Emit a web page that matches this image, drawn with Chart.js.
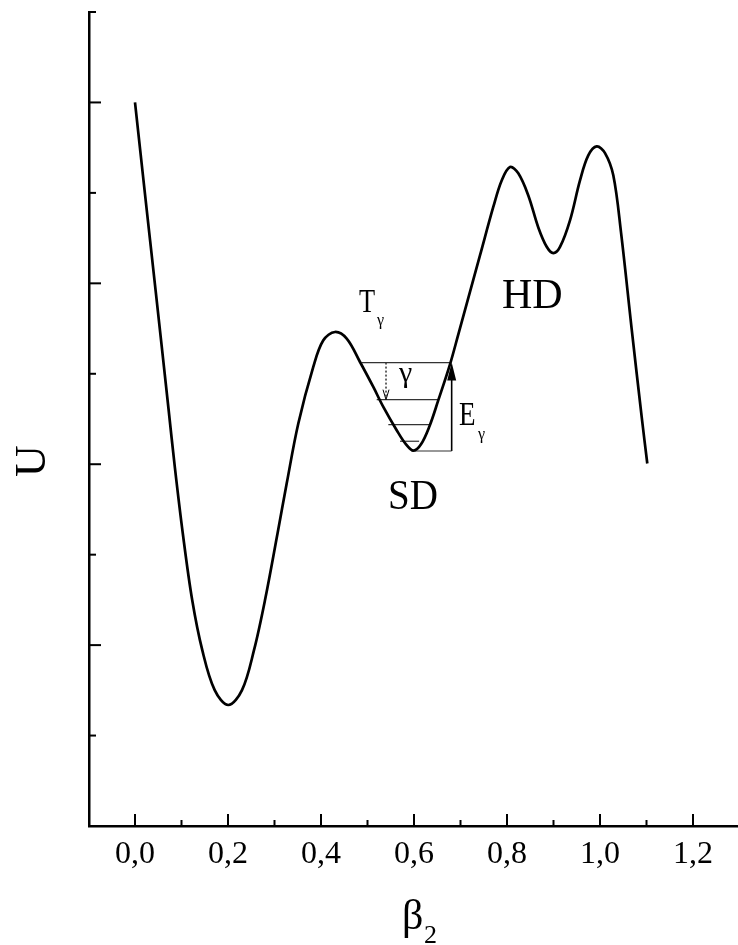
<!DOCTYPE html>
<html>
<head>
<meta charset="utf-8">
<script src="https://cdn.jsdelivr.net/npm/chart.js@4.4.0/dist/chart.umd.min.js"></script>
<style>
  html, body { margin: 0; padding: 0; background: #fff; }
</style>
</head>
<body>
<canvas id="potentialChart" width="738" height="945"></canvas>
<script>
// potential curve U(beta2)
const beta = [0.0000, 0.0206, 0.0443, 0.0720, 0.0856, 0.1028, 0.1230, 0.1447, 0.1714, 0.2006,
  0.2301, 0.2559, 0.2796, 0.3065, 0.3262, 0.3512, 0.3834, 0.4050, 0.4301,
  0.4553, 0.4839, 0.5125, 0.5340, 0.5628, 0.5828, 0.5989, 0.6151, 0.6333, 0.6523,
  0.6774, 0.6953, 0.7133, 0.7419, 0.7705, 0.7886, 0.8065,
  0.8243, 0.8458, 0.8673, 0.8854, 0.8996, 0.9140, 0.9355, 0.9570, 0.9748, 0.9929,
  1.0108, 1.0286, 1.0452, 1.0682, 1.0897, 1.1017];
const energy = [4.00, 3.514, 2.961, 2.308, 1.985, 1.617, 1.249, 0.972, 0.751, 0.669,
  0.751, 0.972, 1.249, 1.617, 1.893, 2.225, 2.538, 2.685, 2.731,
  2.694, 2.565, 2.427, 2.317, 2.188, 2.110, 2.075, 2.110, 2.210, 2.354,
  2.552, 2.718, 2.887, 3.154, 3.422, 3.569, 3.643,
  3.608, 3.486, 3.309, 3.202, 3.167, 3.201, 3.348, 3.569, 3.707, 3.757,
  3.720, 3.597, 3.282, 2.746, 2.260, 2.004];

const xTicks = [0, 0.2, 0.4, 0.6, 0.8, 1.0, 1.2];
const xMinorTicks = [0.1, 0.3, 0.5, 0.7, 0.9, 1.1];
const yTicks = [1, 2, 3, 4];
const yMinorTicks = [0.5, 1.5, 2.5, 3.5, 4.5];

// levels drawn in the SD well
const levelY = [2.562, 2.357, 2.219, 2.127, 2.073];
const levelFrom = [0.4875, 0.5198, 0.5448, 0.5699, 0.5950];
const levelTo = [0.6774, 0.6523, 0.6344, 0.6110, 0.6810];
const arrowX = 0.6810;
const dottedX = 0.5398;

// labels inside the plot: text, beta, U, font size
const noteText = ['T', 'γ', 'γ', 'E', 'γ', 'SD', 'HD'];
const noteX = [0.4817, 0.5204, 0.5677, 0.6968, 0.7376, 0.5441, 0.7892];
const noteY = [2.840, 2.768, 2.453, 2.215, 2.138, 1.751, 2.862];
const noteSize = [33, 16, 30, 33, 16, 42, 42];
const noteSquash = [0.8, 1, 1, 0.82, 1, 0.93, 1];

const serif = "'Liberation Serif', 'DejaVu Serif', serif";

const datasets = [{
  data: beta.map((b, i) => ({ x: b, y: energy[i] })),
  borderColor: '#000',
  borderWidth: 2.7,
  pointRadius: 0,
  tension: 0.35
}];
levelY.forEach((y, i) => {
  datasets.push({
    data: [{ x: levelFrom[i], y: y }, { x: levelTo[i], y: y }],
    borderColor: '#333',
    borderWidth: 1.2,
    pointRadius: 0
  });
});
datasets.push({
  data: [{ x: arrowX, y: levelY[4] }, { x: arrowX, y: levelY[0] - 0.05 }],
  borderColor: '#000',
  borderWidth: 1.6,
  pointRadius: 0
});
datasets.push({
  data: [{ x: dottedX, y: levelY[0] }, { x: dottedX, y: levelY[1] + 0.01 }],
  borderColor: '#000',
  borderWidth: 1.2,
  borderDash: [2, 2],
  pointRadius: 0
});

const extras = {
  id: 'extras',
  afterDraw(chart) {
    const c = chart.ctx;
    const xs = chart.scales.x, ys = chart.scales.y;
    const area = chart.chartArea;
    c.save();
    c.strokeStyle = '#000';
    c.fillStyle = '#000';
    c.lineWidth = 2;

    // inward ticks
    const tick = (x1, y1, x2, y2) => { c.beginPath(); c.moveTo(x1, y1); c.lineTo(x2, y2); c.stroke(); };
    xTicks.forEach(v => { const p = xs.getPixelForValue(v); tick(p, area.bottom, p, area.bottom - 12); });
    xMinorTicks.forEach(v => { const p = xs.getPixelForValue(v); tick(p, area.bottom, p, area.bottom - 6); });
    yTicks.forEach(v => { const p = ys.getPixelForValue(v); tick(area.left, p, area.left + 12, p); });
    yMinorTicks.forEach(v => { const p = ys.getPixelForValue(v); tick(area.left, p, area.left + 7, p); });

    // solid arrow head
    const ax = xs.getPixelForValue(arrowX), ay = ys.getPixelForValue(levelY[0]);
    c.beginPath();
    c.moveTo(ax, ay);
    c.lineTo(ax - 4.5, ay + 18);
    c.lineTo(ax + 4.5, ay + 18);
    c.closePath();
    c.fill();

    // open head of dotted arrow
    const dx = xs.getPixelForValue(dottedX), dy = ys.getPixelForValue(levelY[1]);
    c.lineWidth = 1;
    c.beginPath();
    c.moveTo(dx - 3, dy - 10);
    c.lineTo(dx, dy);
    c.lineTo(dx + 3, dy - 10);
    c.stroke();

    // notes
    c.textAlign = 'left';
    c.textBaseline = 'alphabetic';
    noteText.forEach((t, i) => {
      const px = xs.getPixelForValue(noteX[i]), py = ys.getPixelForValue(noteY[i]);
      c.save();
      c.translate(px, py);
      c.scale(noteSquash[i], 1);
      c.font = noteSize[i] + 'px ' + serif;
      c.fillText(t, 0, 0);
      c.restore();
    });

    // axis titles
    c.font = '44px ' + serif;
    c.save();
    c.translate(45, 461);
    c.rotate(-Math.PI / 2);
    c.textAlign = 'center';
    c.fillText('U', 0, 0);
    c.restore();
    c.font = '42px ' + serif;
    c.fillText('β', 402, 929);
    c.font = '26px ' + serif;
    c.fillText('2', 424, 943);
    c.restore();
  }
};

new Chart(document.getElementById('potentialChart'), {
  type: 'line',
  data: { datasets: datasets },
  options: {
    responsive: false,
    animation: false,
    layout: { padding: { top: 12, right: 0, bottom: 0, left: 0 } },
    plugins: { legend: { display: false }, tooltip: { enabled: false } },
    scales: {
      x: {
        type: 'linear',
        min: -46 / 465,
        max: 603 / 465,
        afterBuildTicks: s => { s.ticks = xTicks.map(v => ({ value: v })); },
        afterFit: s => { s.height = 119; },
        ticks: {
          callback: v => v.toFixed(1).replace('.', ','),
          font: { family: serif, size: 32 },
          color: '#000',
          padding: 9,
          maxRotation: 0,
          autoSkip: false
        },
        grid: { display: false, drawTicks: false },
        border: { display: true, color: '#000', width: 2.5 }
      },
      y: {
        min: 0,
        max: 4.5,
        afterFit: s => { s.width = 89; },
        ticks: { display: false },
        grid: { display: false, drawTicks: false },
        border: { display: true, color: '#000', width: 2.5 }
      }
    }
  },
  plugins: [extras]
});
</script>
</body>
</html>
